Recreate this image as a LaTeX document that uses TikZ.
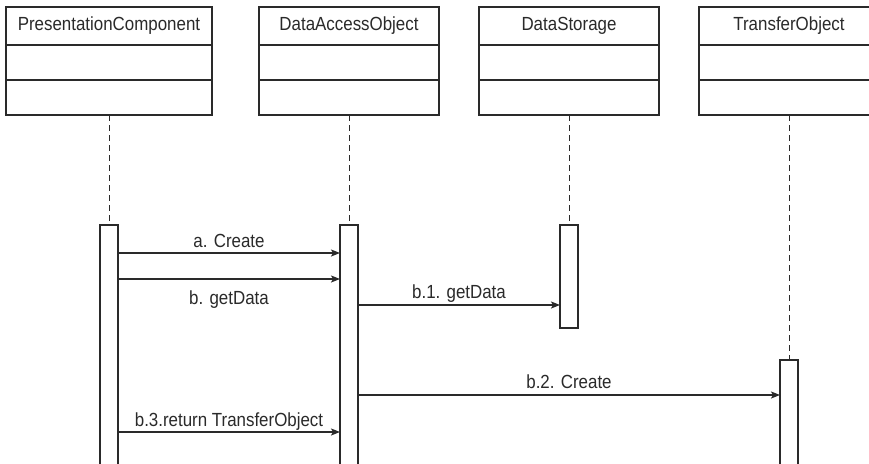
\documentclass[tikz,border=0pt]{standalone}
\usepackage{fontspec}
\setmainfont[FakeStretch=0.89]{Liberation Sans}
\usetikzlibrary{arrows.meta,positioning}
\definecolor{ink}{HTML}{2A2A2A}

\begin{document}
\begin{tikzpicture}[x=1pt,y=-1pt,
  font=\fontsize{19}{22}\selectfont,
  head/.style={draw=ink,line width=1.2pt,outer sep=0pt,minimum height=38pt,inner sep=0pt,text=ink},
  part/.style={draw=ink,line width=1.2pt,outer sep=0pt,minimum height=35pt,inner sep=0pt},
  bar/.style={draw=ink,fill=white,line width=1.2pt,outer sep=0pt,minimum width=18pt,inner sep=0pt,anchor=north},
  life/.style={ink,line width=1pt,dash pattern=on 6pt off 4pt},
  msg/.style={ink,line width=1.2pt,-{Stealth[length=9pt,width=7pt,inset=2pt]}},
  lbl/.style={text=ink,inner sep=0pt,anchor=base}]
  \clip (0,0) rectangle (869,463);
  \fill[white] (0,0) rectangle (869,463);
  % classes
  \node[head,minimum width=206pt] (pc) at (109,26) {PresentationComponent};
  \node[part,minimum width=206pt,below=0pt of pc] (pc2) {};
  \node[part,minimum width=206pt,below=0pt of pc2] (pc3) {};
  \node[head,minimum width=180pt] (dao) at (349,26) {DataAccessObject};
  \node[part,minimum width=180pt,below=0pt of dao] (dao2) {};
  \node[part,minimum width=180pt,below=0pt of dao2] (dao3) {};
  \node[head,minimum width=180pt] (ds) at (569,26) {DataStorage};
  \node[part,minimum width=180pt,below=0pt of ds] (ds2) {};
  \node[part,minimum width=180pt,below=0pt of ds2] (ds3) {};
  \node[head,minimum width=180pt] (to) at (789,26) {TransferObject};
  \node[part,minimum width=180pt,below=0pt of to] (to2) {};
  \node[part,minimum width=180pt,below=0pt of to2] (to3) {};
  % activations
  \node[bar,minimum height=260pt] (pcbar) at (109,225) {};
  \node[bar,minimum height=260pt] (daobar) at (349,225) {};
  \node[bar,minimum height=103pt] (dsbar) at (569,225) {};
  \node[bar,minimum height=130pt] (tobar) at (789,360) {};
  \draw[life] (pc3.south) -- (pcbar.north);
  \draw[life] (dao3.south) -- (daobar.north);
  \draw[life] (ds3.south) -- (dsbar.north);
  \draw[life] (to3.south) -- (tobar.north);
  % messages
  \draw[msg] (pcbar.east |- 0,253) -- node[lbl,yshift=6pt] {a. Create} (daobar.west |- 0,253);
  \draw[msg] (pcbar.east |- 0,279) -- node[lbl,yshift=-25pt] {b. getData} (daobar.west |- 0,279);
  \draw[msg] (daobar.east |- 0,305) -- node[lbl,yshift=7pt] {b.1. getData} (dsbar.west |- 0,305);
  \draw[msg] (daobar.east |- 0,395) -- node[lbl,yshift=7pt] {b.2. Create} (tobar.west |- 0,395);
  \draw[msg] (pcbar.east |- 0,432) -- node[lbl,yshift=6pt] {b.3.return TransferObject} (daobar.west |- 0,432);
\end{tikzpicture}
\end{document}
